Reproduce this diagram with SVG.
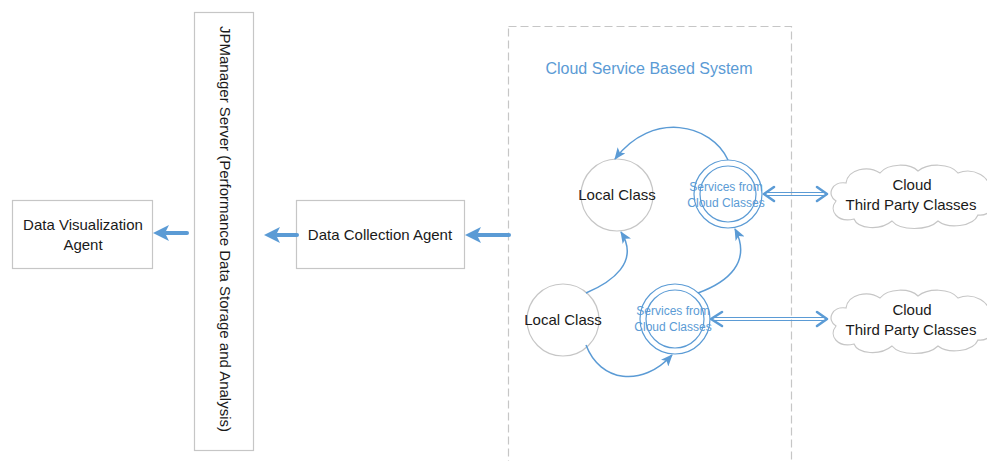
<svg xmlns="http://www.w3.org/2000/svg" width="987" height="461" viewBox="0 0 987 461">
  <defs>
    <style>
      .box { fill: #ffffff; stroke: #c6c6c6; stroke-width: 1.2; }
      .lbl { font-family: "Liberation Sans", Arial, sans-serif; font-size: 15px; fill: #1a1a1a; text-anchor: middle; }
      .svc { font-family: "Liberation Sans", Arial, sans-serif; font-size: 12px; fill: #5b9bd5; text-anchor: middle; }
      .ring { fill: #ffffff; stroke: #5b9bd5; stroke-width: 1.2; }
      .plain { fill: #ffffff; stroke: #c6c6c6; stroke-width: 1.2; }
      .flow { fill: none; stroke: #5b9bd5; stroke-width: 1.5; }
      .thick { fill: none; stroke: #5b9bd5; stroke-width: 4; stroke-linecap: round; }
      .head { fill: #5b9bd5; }
      .dbl { fill: none; stroke: #5b9bd5; stroke-width: 1.1; }
      .chev { fill: none; stroke: #5b9bd5; stroke-width: 2.6; stroke-linecap: round; stroke-linejoin: round; }
      .cloud { fill: #ffffff; stroke: #c6c6c6; stroke-width: 1.2; }
    </style>
    <marker id="tip" viewBox="0 0 12 10" refX="11" refY="5" markerWidth="12" markerHeight="10" markerUnits="userSpaceOnUse" orient="auto">
      <path d="M0,0 L12,5 L0,10 L3,5 Z" fill="#5b9bd5"/>
    </marker>
    <path id="cloudShape" d="M 8 38 C -2 32, 4 18, 18 20 C 20 6, 40 2, 52 10 C 60 0, 82 0, 90 8 C 100 0, 122 0, 130 10 C 145 4, 165 14, 160 28 C 172 36, 165 54, 150 52 C 145 64, 120 66, 110 58 C 100 68, 72 68, 64 58 C 52 68, 30 66, 26 56 C 10 60, 0 48, 8 38 Z"/>
  </defs>

  <rect width="987" height="461" fill="#ffffff"/>

  <!-- container for the cloud-based system -->
  <g id="cloud-system">
    <rect x="508.5" y="26.5" width="283" height="460" fill="none" stroke="#c6c6c6" stroke-width="1.2" stroke-dasharray="8 4"/>
    <text x="649" y="74" font-family="Liberation Sans, Arial, sans-serif" font-size="16" fill="#5b9bd5" text-anchor="middle">Cloud Service Based System</text>
  </g>

  <g id="data-visualization-agent">
    <rect class="box" x="12.5" y="200.5" width="140" height="68"/>
    <text class="lbl" x="83" y="230" font-size="15.5">Data Visualization</text>
    <text class="lbl" x="83" y="250" font-size="15.5">Agent</text>
  </g>

  <g id="jpmanager-server">
    <rect class="box" x="194.5" y="12.5" width="59" height="438"/>
    <text class="lbl" font-size="16" transform="translate(220 229) rotate(90)">JPManager Server (Performance Data Storage and Analysis)</text>
  </g>

  <g id="data-collection-agent">
    <rect class="box" x="296.5" y="200.5" width="168" height="68"/>
    <text class="lbl" x="380" y="240" font-size="15.5">Data Collection Agent</text>
  </g>

  <g id="local-class-top">
    <circle class="plain" cx="617" cy="195" r="36"/>
    <text class="lbl" x="617" y="200" font-size="14.5">Local Class</text>
  </g>

  <g id="services-top">
    <circle class="ring" cx="728" cy="194" r="34"/>
    <circle class="ring" cx="728" cy="194" r="28"/>
    <text class="svc" x="726" y="191">Services from</text>
    <text class="svc" x="726" y="207">Cloud Classes</text>
  </g>

  <g id="local-class-bottom">
    <circle class="plain" cx="563" cy="320" r="36"/>
    <text class="lbl" x="563" y="325" font-size="14.5">Local Class</text>
  </g>

  <g id="services-bottom">
    <circle class="ring" cx="675" cy="319" r="35"/>
    <circle class="ring" cx="675" cy="319" r="29"/>
    <text class="svc" x="673" y="315">Services from</text>
    <text class="svc" x="673" y="331">Cloud Classes</text>
  </g>

  <g id="third-party-top">
    <use href="#cloudShape" class="cloud" transform="translate(828 163)"/>
    <text class="lbl" x="912" y="190">Cloud</text>
    <text class="lbl" x="911" y="210">Third Party Classes</text>
  </g>

  <g id="third-party-bottom">
    <use href="#cloudShape" class="cloud" transform="translate(828 288)"/>
    <text class="lbl" x="912" y="315">Cloud</text>
    <text class="lbl" x="911" y="335">Third Party Classes</text>
  </g>

  <g id="connectors">
    <!-- thick data-flow arrows -->
    <path class="thick" d="M 187 233 L 166 233"/>
    <path class="head" d="M 153 233 L 169 225 L 165 233 L 169 241 Z"/>
    <path class="thick" d="M 297 235 L 277 235"/>
    <path class="head" d="M 264 235 L 280 227 L 276 235 L 280 243 Z"/>
    <path class="thick" d="M 509 235 L 478 235"/>
    <path class="head" d="M 465 235 L 481 227 L 477 235 L 481 243 Z"/>

    <!-- calls between classes -->
    <path class="flow" marker-end="url(#tip)" d="M 728 160 C 712 124, 652 110, 615 159"/>
    <path class="flow" marker-end="url(#tip)" d="M 586 293 C 612 282, 640 262, 621 232"/>
    <path class="flow" marker-end="url(#tip)" d="M 698 293 C 728 282, 752 262, 735 229"/>
    <path class="flow" marker-end="url(#tip)" d="M 586 345 C 600 382, 642 388, 672 355"/>

    <!-- double links to third-party classes -->
    <line class="dbl" x1="765" y1="192.5" x2="826" y2="192.5"/>
    <line class="dbl" x1="765" y1="195.5" x2="826" y2="195.5"/>
    <polyline class="chev" points="774,187 764,194 774,201"/>
    <polyline class="chev" points="817,187 827,194 817,201"/>

    <line class="dbl" x1="712" y1="317.5" x2="826" y2="317.5"/>
    <line class="dbl" x1="712" y1="320.5" x2="826" y2="320.5"/>
    <polyline class="chev" points="722,312 711,319 722,326"/>
    <polyline class="chev" points="817,312 827,319 817,326"/>
  </g>
</svg>
